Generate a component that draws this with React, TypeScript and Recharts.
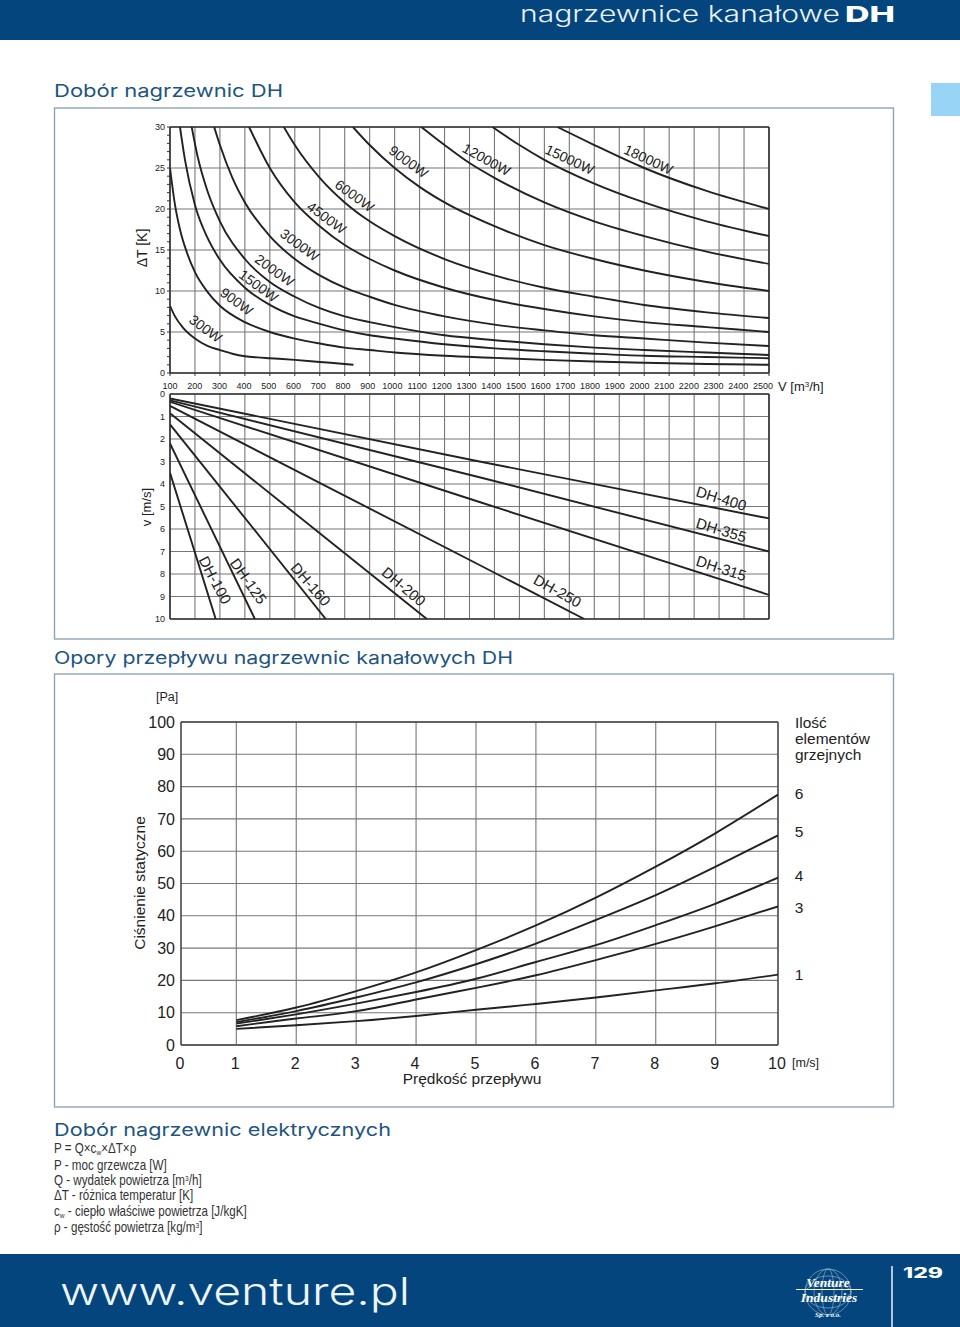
import React from "react";
import { LineChart, Line, XAxis, YAxis, CartesianGrid, ReferenceLine, ReferenceDot } from "recharts";

const SANS = "'Liberation Sans', Arial, sans-serif";
const WIDE = "Inter, 'Liberation Sans', sans-serif";
const NAVY = "#03457c";
const TITLE = "#1d557f";
const INK = "#222";
const GRID = "#777";
const FRAME = "#333";

// air flow axis shared by the two upper charts
const flowTicks = [100, 200, 300, 400, 500, 600, 700, 800, 900, 1000, 1100, 1200, 1300, 1400, 1500, 1600, 1700, 1800, 1900, 2000, 2100, 2200, 2300, 2400, 2500];

// heater power curves: [V m3/h, delta T K]
const p300 = [[100, 8.2], [120, 6.9], [150, 5.6], [200, 4.2], [250, 3.3], [300, 2.8], [350, 2.35], [400, 2.05], [450, 1.9], [500, 1.8], [600, 1.6], [700, 1.35], [800, 1.1], [835, 1.0]];
const p900 = [[100, 25], [120, 20.5], [140, 17.5], [170, 14.5], [200, 12.3], [250, 9.9], [300, 8.2], [400, 6.2], [500, 5.0], [600, 4.2], [700, 3.6], [800, 3.1], [900, 2.8], [1000, 2.5], [1200, 2.1], [1400, 1.85], [1600, 1.6], [1800, 1.4], [2000, 1.25], [2250, 1.1], [2500, 1.0]];
const p1500 = [[140, 30], [160, 26], [200, 20.5], [250, 16.5], [300, 13.8], [400, 10.4], [500, 8.3], [600, 6.9], [700, 6.0], [800, 5.2], [900, 4.6], [1000, 4.2], [1200, 3.5], [1400, 3.0], [1600, 2.65], [1800, 2.35], [2000, 2.1], [2250, 1.95], [2500, 1.8]];
const p2000 = [[187, 30], [210, 26.5], [250, 22.2], [300, 18.5], [400, 13.9], [500, 11.1], [600, 9.3], [700, 7.9], [800, 6.9], [900, 6.2], [1000, 5.6], [1200, 4.6], [1400, 4.0], [1600, 3.5], [1800, 3.1], [2000, 2.8], [2250, 2.5], [2500, 2.2]];
const p3000 = [[277, 30], [300, 27.8], [350, 23.8], [400, 20.8], [500, 16.7], [600, 13.9], [700, 11.9], [800, 10.4], [900, 9.3], [1000, 8.3], [1200, 6.9], [1400, 5.9], [1600, 5.2], [1800, 4.6], [2000, 4.2], [2250, 3.7], [2500, 3.3]];
const p4500 = [[417, 30], [500, 25], [600, 20.8], [700, 17.9], [800, 15.6], [900, 13.9], [1000, 12.5], [1200, 10.4], [1400, 8.9], [1600, 7.8], [1800, 6.9], [2000, 6.2], [2250, 5.6], [2500, 5.0]];
const p6000 = [[556, 30], [600, 27.8], [700, 23.8], [800, 20.8], [900, 18.5], [1000, 16.7], [1200, 13.9], [1400, 11.9], [1600, 10.4], [1800, 9.3], [2000, 8.3], [2250, 7.4], [2500, 6.7]];
const p9000 = [[833, 30], [900, 27.8], [1000, 25], [1100, 22.7], [1200, 20.8], [1400, 17.9], [1600, 15.6], [1800, 13.9], [2000, 12.5], [2250, 11.1], [2500, 10]];
const p12000 = [[1107, 30], [1200, 27.8], [1300, 25.6], [1400, 23.8], [1600, 20.8], [1800, 18.5], [2000, 16.7], [2250, 14.8], [2500, 13.3]];
const p15000 = [[1392, 30], [1500, 27.8], [1600, 26], [1800, 23.1], [2000, 20.8], [2250, 18.5], [2500, 16.7]];
const p18000 = [[1652, 30], [1800, 27.8], [2000, 25], [2250, 22.2], [2500, 20]];
const powerCurves = [p300, p900, p1500, p2000, p3000, p4500, p6000, p9000, p12000, p15000, p18000];

// [text, V, delta T, angle]
const powerLabels = [
  ["300W", 240, 5.3, 36], ["900W", 364, 8.6, 36], ["1500W", 452, 10.5, 36], ["2000W", 516, 12.4, 36],
  ["3000W", 617, 15.5, 36], ["4500W", 725, 18.8, 36], ["6000W", 837, 21.5, 36], ["9000W", 1053, 25.65, 36],
  ["12000W", 1366, 25.9, 29], ["15000W", 1699, 25.9, 25], ["18000W", 2015, 25.9, 25],
];

// duct size lines: [V m3/h, v m/s]
const dh100 = [[100, 3.5], [283, 10]];
const dh125 = [[100, 2.2], [440, 10]];
const dh160 = [[100, 1.35], [724, 10]];
const dh200 = [[100, 0.86], [1129, 10]];
const dh250 = [[100, 0.53], [1340, 7.6], [1760, 10]];
const dh315 = [[100, 0.35], [1340, 4.8], [2500, 8.93]];
const dh355 = [[100, 0.28], [1340, 3.7], [2500, 7.0]];
const dh400 = [[100, 0.2], [1340, 3.0], [2500, 5.53]];
const ductLines = [dh100, dh125, dh160, dh200, dh250, dh315, dh355, dh400];

const ductLabels = [
  ["DH-100", 276, 8.3, 62], ["DH-125", 410, 8.35, 55], ["DH-160", 660, 8.5, 49], ["DH-200", 1033, 8.6, 40],
  ["DH-250", 1650, 8.8, 29], ["DH-315", 2307, 7.8, 18], ["DH-355", 2307, 6.1, 17], ["DH-400", 2307, 4.7, 17],
];

const deltaTTicks = Array.from({ length: 31 }, (_, i) => i);
const deltaTGrid = [0, 5, 10, 15, 20, 25, 30];
const speedTicks = [0, 1, 2, 3, 4, 5, 6, 7, 8, 9, 10];

// pressure drop chart: the printed axis is slightly uneven at both ends
const velocityTicks = [0.077, 1, 2, 3, 4, 5, 6, 7, 8, 9, 10.04];
const pressureTicks = [0, 10, 20, 30, 40, 50, 60, 70, 80, 90, 100];
const rows1 = [5.0, 6.1, 7.4, 9.0, 10.9, 12.7, 14.7, 16.9, 19.1, 21.8];
const rows3 = [5.8, 8.2, 10.5, 14.1, 17.7, 21.6, 26.3, 31.3, 36.8, 42.9];
const rows4 = [6.6, 9.5, 12.8, 16.4, 20.5, 25.7, 30.9, 37.1, 43.8, 51.8];
const rows5 = [7.1, 10.5, 14.7, 19.4, 25.0, 31.4, 38.7, 46.4, 55.2, 64.9];
const rows6 = [7.7, 11.6, 16.7, 22.5, 29.4, 37.0, 45.6, 55.2, 65.6, 77.5];
const rowSeries = [["1", rows1, 1], ["3", rows3, 2], ["4", rows4, -1], ["5", rows5, -2], ["6", rows6, 0]];

const toPoints = (pairs) => pairs.map(([x, y]) => ({ x, y }));
const velocityRows = (values) => values.map((y, i) => ({ x: velocityTicks[i + 1], y }));

function Tilted({ cx, cy, text, angle, size = 14 }) {
  return (
    <text x={cx} y={cy} transform={`rotate(${angle} ${cx} ${cy})`} textAnchor="middle" dominantBaseline="middle" fontFamily={SANS} fontSize={size} fill={INK}>
      {text}
    </text>
  );
}

function FlowTick({ x, y, payload }) {
  // printed labels run a little tighter than the grid
  const shift = (payload.value - 100) * 0.0025;
  return <text x={x - shift} y={y + 11} textAnchor="middle" fontFamily={SANS} fontSize={9} fill={INK}>{payload.value}</text>;
}

function LeftTick({ x, y, payload }) {
  return <text x={x} y={y + 3} textAnchor="end" fontFamily={SANS} fontSize={9} fill={INK}>{payload.value}</text>;
}

function DeltaTTick(props) {
  return props.payload.value % 5 === 0 ? <LeftTick {...props} /> : null;
}

function frame(xMin, xMax, yMin, yMax) {
  return [
    <ReferenceLine key="t" y={yMin} stroke={FRAME} strokeWidth={1.6} />,
    <ReferenceLine key="b" y={yMax} stroke={FRAME} strokeWidth={1.6} />,
    <ReferenceLine key="l" x={xMin} stroke={FRAME} strokeWidth={1.6} />,
    <ReferenceLine key="r" x={xMax} stroke={FRAME} strokeWidth={1.6} />,
  ];
}

function PowerChart() {
  return (
    <LineChart width={960} height={300} margin={{ top: 27, right: 191, bottom: 7, left: 140 }}>
      <CartesianGrid stroke={GRID} strokeWidth={1.1} horizontalValues={deltaTGrid} verticalValues={flowTicks} />
      <XAxis dataKey="x" type="number" domain={[100, 2500]} ticks={flowTicks} interval={0} height={20} tickSize={3} tickLine={{ stroke: FRAME }} axisLine={false} tick={<FlowTick />} allowDataOverflow />
      <YAxis type="number" domain={[0, 30]} ticks={deltaTTicks} interval={0} width={30} tickSize={3} tickLine={{ stroke: FRAME }} axisLine={false} tick={<DeltaTTick />} allowDataOverflow />
      {frame(100, 2500, 30, 0)}
      {powerCurves.map((c, i) => (
        <Line key={i} data={toPoints(c)} dataKey="y" type="monotone" stroke={INK} strokeWidth={1.9} dot={false} isAnimationActive={false} />
      ))}
      {powerLabels.map(([text, x, y, angle]) => (
        <ReferenceDot key={text} x={x} y={y} r={0} shape={(p) => <Tilted cx={p.cx} cy={p.cy} text={text} angle={angle} />} />
      ))}
    </LineChart>
  );
}

function DuctChart() {
  return (
    <LineChart width={960} height={245} margin={{ top: 9, right: 191, bottom: 10, left: 140 }}>
      <CartesianGrid stroke={GRID} strokeWidth={1.1} horizontalValues={speedTicks} verticalValues={flowTicks} />
      <XAxis dataKey="x" type="number" domain={[100, 2500]} ticks={flowTicks} interval={0} height={1} tick={() => <g />} tickLine={false} axisLine={false} allowDataOverflow />
      <YAxis type="number" domain={[0, 10]} ticks={speedTicks} interval={0} reversed width={30} tickSize={3} tickLine={false} axisLine={false} tick={<LeftTick />} allowDataOverflow />
      {frame(100, 2500, 0, 10)}
      {ductLines.map((c, i) => (
        <Line key={i} data={toPoints(c)} dataKey="y" type="linear" stroke={INK} strokeWidth={1.9} dot={false} isAnimationActive={false} />
      ))}
      {ductLabels.map(([text, x, y, angle]) => (
        <ReferenceDot key={text} x={x} y={y} r={0} shape={(p) => <Tilted cx={p.cx} cy={p.cy} text={text} angle={angle} size={15} />} />
      ))}
    </LineChart>
  );
}

function PressureChart() {
  return (
    <LineChart width={960} height={400} margin={{ top: 22, right: 182, bottom: 25, left: 141 }}>
      <CartesianGrid stroke={GRID} strokeWidth={1.1} horizontalValues={pressureTicks} verticalValues={velocityTicks} />
      <XAxis
        dataKey="x" type="number" domain={[0.077, 10.04]} ticks={velocityTicks} interval={0} height={30} tickLine={false} axisLine={false}
        tickFormatter={(v) => String(Math.round(v))} tick={{ fontFamily: SANS, fontSize: 16, fill: INK, dx: -1 }} tickMargin={7} allowDataOverflow
      />
      <YAxis type="number" domain={[0, 100]} ticks={pressureTicks} interval={0} width={40} tickLine={false} axisLine={false} tickSize={0} tickMargin={6} tick={{ fontFamily: SANS, fontSize: 16, fill: INK }} allowDataOverflow />
      <ReferenceLine y={100} stroke="#444" strokeWidth={1.3} />
      <ReferenceLine y={0} stroke="#444" strokeWidth={1.3} />
      <ReferenceLine x={0.077} stroke="#444" strokeWidth={1.3} />
      <ReferenceLine x={10.04} stroke="#444" strokeWidth={1.3} />
      {rowSeries.map(([name, values, nudge]) => (
        <Line
          key={name} data={velocityRows(values)} dataKey="y" type="natural" stroke={INK} strokeWidth={1.9} dot={false} isAnimationActive={false}
          label={({ x, y, index }) => index === values.length - 1
            ? <text x={x + 21} y={y + nudge} textAnchor="middle" dominantBaseline="middle" fontFamily={SANS} fontSize={15.5} fill={INK}>{name}</text>
            : null}
        />
      ))}
    </LineChart>
  );
}

function Wide({ x, y, width, size, color = TITLE, weight = 400, children }) {
  return <text x={x} y={y} textLength={width} lengthAdjust="spacingAndGlyphs" fontFamily={WIDE} fontSize={size} fontWeight={weight} fill={color}>{children}</text>;
}

function Note({ y, children }) {
  return <text transform={`translate(54 ${y}) scale(0.83 1)`} fontFamily={SANS} fontSize={14} fill="#333">{children}</text>;
}

const Sup = ({ children }) => <tspan dy={-4} fontSize={8}>{children}</tspan>;
const Sub = ({ children }) => <tspan dy={2} fontSize={8}>{children}</tspan>;

function Page() {
  return (
    <svg width={960} height={1327} style={{ position: "absolute", left: 0, top: 0 }}>
      <rect x={0} y={0} width={960} height={40} fill={NAVY} />
      <Wide x={520} y={22} width={320} size={22.5} color="#e8f1f7" weight={300}>nagrzewnice kanałowe</Wide>
      <Wide x={845} y={22} width={50} size={22} color="#fff" weight={800}>DH</Wide>
      <rect x={931} y={83} width={29} height={33} fill="#97d4f5" />

      <Wide x={54} y={97} width={229} size={17.5}>Dobór nagrzewnic DH</Wide>
      <rect x={54.5} y={108} width={839} height={531} fill="none" stroke="#8fa5b5" strokeWidth={1.4} />
      <text transform="translate(147 248) rotate(-90)" textAnchor="middle" fontFamily={SANS} fontSize={14} fill={INK}>ΔT  [K]</text>
      <text transform="translate(151 507) rotate(-90)" textAnchor="middle" fontFamily={SANS} fontSize={13} fill={INK}>v [m/s]</text>
      <text x={778} y={391} fontFamily={SANS} fontSize={13} fill={INK}>V [m<tspan dy={-4} fontSize={8}>3</tspan><tspan dy={4}>/h]</tspan></text>

      <Wide x={54} y={663.5} width={459} size={17.5}>Opory przepływu nagrzewnic kanałowych DH</Wide>
      <rect x={54.5} y={674} width={839} height={433} fill="none" stroke="#8fa5b5" strokeWidth={1.4} />
      <text x={156} y={701} fontFamily={SANS} fontSize={12.5} fill={INK}>[Pa]</text>
      <text transform="translate(145 883) rotate(-90)" textAnchor="middle" fontFamily={SANS} fontSize={15.5} fill={INK}>Ciśnienie statyczne</text>
      <text x={472} y={1084} textAnchor="middle" fontFamily={SANS} fontSize={15.5} fill={INK}>Prędkość przepływu</text>
      <text x={792} y={1067} fontFamily={SANS} fontSize={12.5} fill={INK}>[m/s]</text>
      <text x={795} y={728} fontFamily={SANS} fontSize={15.5} fill={INK}>Ilość</text>
      <text x={795} y={744} fontFamily={SANS} fontSize={15.5} fill={INK}>elementów</text>
      <text x={795} y={760} fontFamily={SANS} fontSize={15.5} fill={INK}>grzejnych</text>

      <Wide x={54} y={1136} width={337} size={17.5}>Dobór nagrzewnic elektrycznych</Wide>
      <Note y={1153}>P = Q×c<Sub>w</Sub><tspan dy={-2}>×ΔT×ρ</tspan></Note>
      <Note y={1170}>P - moc grzewcza [W]</Note>
      <Note y={1185}>Q - wydatek powietrza [m<Sup>3</Sup><tspan dy={4}>/h]</tspan></Note>
      <Note y={1200}>ΔT - różnica temperatur [K]</Note>
      <Note y={1216}>c<Sub>w</Sub><tspan dy={-2}> - ciepło właściwe powietrza [J/kgK]</tspan></Note>
      <Note y={1232}>ρ - gęstość powietrza [kg/m<Sup>3</Sup><tspan dy={4}>]</tspan></Note>

      <rect x={0} y={1254} width={960} height={73} fill={NAVY} />
      <Wide x={60} y={1305} width={350} size={38} color="#eef5fa" weight={300}>www.venture.pl</Wide>
      <line x1={892} y1={1266} x2={892} y2={1327} stroke="#dfe9f1" strokeWidth={1.6} />
      <Wide x={903} y={1277.5} width={40} size={14} color="#fff" weight={800}>129</Wide>

      <g fill="none" stroke="#9fbdd4" strokeWidth={0.6}>
        <circle cx={828} cy={1292} r={23} />
        <ellipse cx={828} cy={1292} rx={14} ry={23} />
        <ellipse cx={828} cy={1292} rx={6} ry={23} />
        <ellipse cx={828} cy={1292} rx={23} ry={8} />
        <ellipse cx={828} cy={1292} rx={23} ry={16} />
      </g>
      <line x1={796} y1={1289.5} x2={863} y2={1289.5} stroke="#fff" strokeWidth={1.2} />
      <text x={828} y={1287} textAnchor="middle" fontFamily="'Liberation Serif', serif" fontStyle="italic" fontWeight={700} fontSize={13.5} fill="#fff">Venture</text>
      <text x={829} y={1302} textAnchor="middle" fontFamily="'Liberation Serif', serif" fontStyle="italic" fontWeight={700} fontSize={13.5} fill="#fff">Industries</text>
      <text x={828} y={1317} textAnchor="middle" fontFamily="'Liberation Serif', serif" fontStyle="italic" fontWeight={700} fontSize={7} fill="#fff">Sp. z o.o.</text>
    </svg>
  );
}

export default function App() {
  return (
    <div style={{ position: "absolute", left: 0, top: 0, width: 960, height: 1327, overflow: "hidden", background: "#fff" }}>
      <Page />
      <div style={{ position: "absolute", left: 0, top: 100 }}><PowerChart /></div>
      <div style={{ position: "absolute", left: 0, top: 385 }}><DuctChart /></div>
      <div style={{ position: "absolute", left: 0, top: 700 }}><PressureChart /></div>
    </div>
  );
}
